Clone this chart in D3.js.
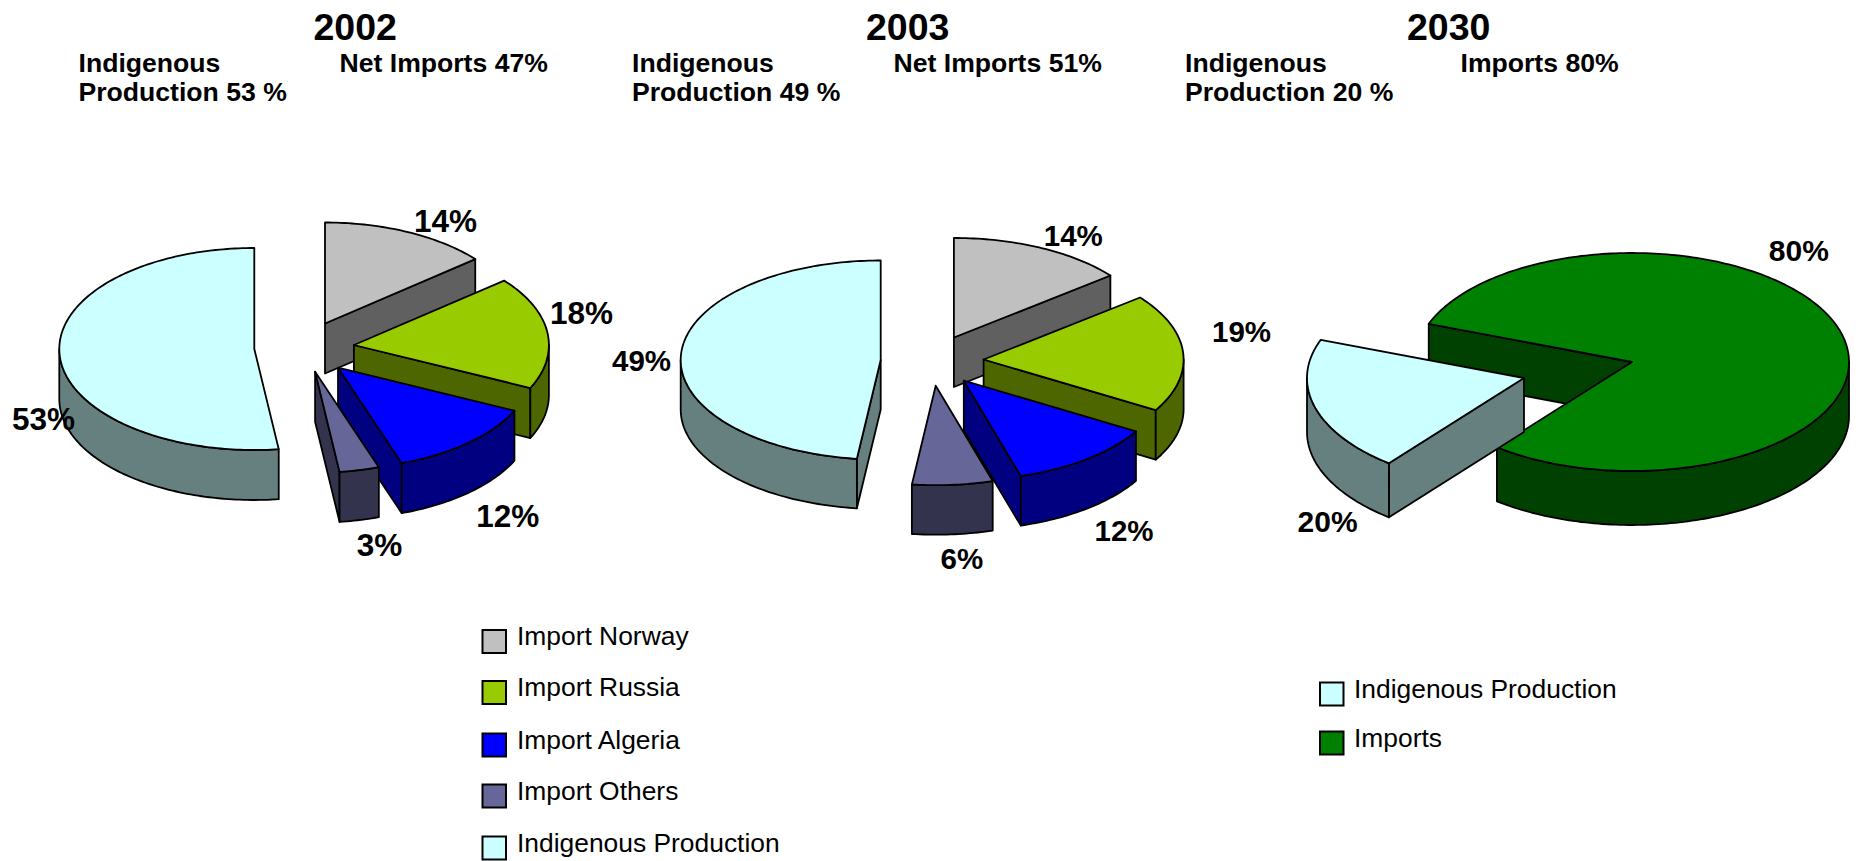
<!DOCTYPE html>
<html>
<head>
<meta charset="utf-8">
<script src="https://cdn.jsdelivr.net/npm/d3@7"></script>
<style>
  body { margin: 0; background: #fff; }
  svg { display: block; }
  text { font-family: "Liberation Sans", Arial, sans-serif; fill: #000; }
</style>
</head>
<body>
<script>
// Slice sizes (the printed labels are rounded differently)
const names2003 = ['Import Norway', 'Import Russia', 'Import Algeria', 'Import Others', 'Indigenous Production'];
const shares2002 = [14, 18, 12.7, 3.3, 52];
const shares2003 = [14.3, 19.2, 11.9, 6.5, 48.1];
const names2030 = ['Indigenous Production', 'Imports'];
const shares2030 = [20, 80];
const labels2002 = ['14%', '18%', '12%', '3%', '53%'];
const labels2003 = ['14%', '19%', '12%', '6%', '49%'];
const labels2030 = ['20%', '80%'];

const colours = {
  'Import Norway': ['#C0C0C0', '#606060'],
  'Import Russia': ['#99CC00', '#4D6600'],
  'Import Algeria': ['#0000FF', '#000080'],
  'Import Others': ['#666699', '#33334D'],
  'Indigenous Production': ['#CCFFFF', '#668080'],
  'Imports': ['#008000', '#004000']
};

const width = 1864;
const height = 861;

// Layout of each pie: centre, radii, depth, how far each slice is pulled out
const pies = [
  {
    title: '2002', titleX: 313.5, names: names2003, shares: shares2002, labels: labels2002,
    cx: 320, cy: 350, rx: 195, ry: 101, depth: 50, start: 0, labelSize: 31.5,
    pull: [[5, -26.5], [33.9, -5], [18, 17.7], [-4.9, 21.7], [-65.7, -1]],
    labelAt: [[414, 232], [550, 324], [476.3, 527], [356.8, 556], [12, 430]],
    head: [['Indigenous', 78.5, 71.7], ['Production 53 %', 78.5, 100.7], ['Net Imports 47%', 339.5, 71.7]]
  },
  {
    title: '2003', titleX: 866, names: names2003, shares: shares2003, labels: labels2003,
    cx: 940, cy: 360, rx: 200, ry: 99.5, depth: 49.5, start: 0, labelSize: 29.5,
    pull: [[13.9, -22.5], [43.6, -0.5], [23.8, 20.7], [-4.3, 25.7], [-59.3, 0]],
    labelAt: [[1043.8, 245.7], [1212, 342], [1094.5, 540.7], [940.5, 569], [612, 371]],
    head: [['Indigenous', 632, 71.7], ['Production 49 %', 632, 100.7], ['Net Imports 51%', 893.5, 71.7]]
  },
  {
    title: '2030', titleX: 1407, names: names2030, shares: shares2030, labels: labels2030,
    cx: 1632, cy: 362, rx: 217, ry: 109, depth: 54, start: 218.5, labelSize: 30,
    pull: [[-108, 16], [0, 0]],
    labelAt: [[1297.6, 531.7], [1768.8, 261]],
    head: [['Indigenous', 1185, 71.7], ['Production 20 %', 1185, 100.7], ['Imports 80%', 1460.5, 71.7]]
  }
];

const legends = [
  { names: names2003, x: 482.5, tops: [630, 681, 733.5, 784.5, 836.5], textX: 517 },
  { names: names2030, x: 1320, tops: [682.5, 731.5], textX: 1354 }
];

const svg = d3.select('body').append('svg')
  .attr('width', width)
  .attr('height', height);

const outline = d3.line();
const tau = 2 * Math.PI;

function drawPie(p) {
  const g = svg.append('g').attr('transform', `translate(${p.cx},${p.cy})`);

  const xScale = d3.scaleLinear().domain([-1, 1]).range([-p.rx, p.rx]);
  const yScale = d3.scaleLinear().domain([-1, 1]).range([-p.ry, p.ry]);
  const rimPoint = (a, dy) => [xScale(Math.sin(a)), yScale(-Math.cos(a)) + dy];

  const startAngle = p.start * Math.PI / 180;
  const arcs = d3.pie().sort(null).startAngle(startAngle).endAngle(startAngle + tau)(p.shares);

  const slices = arcs.map((a, i) => ({
    a0: a.startAngle, a1: a.endAngle, name: p.names[i], pull: p.pull[i]
  }));

  // back slices first
  slices.sort((s, t) => s.pull[1] - t.pull[1]);

  const sweep = (a0, a1, dy) => {
    const n = Math.max(2, Math.ceil((a1 - a0) / 0.02));
    return d3.range(n + 1).map(k => rimPoint(a0 + (a1 - a0) * k / n, dy));
  };

  slices.forEach(s => {
    const sg = g.append('g').attr('transform', `translate(${s.pull[0]},${s.pull[1]})`);
    const [top, side] = colours[s.name];
    const face = (pts, fill) => sg.append('path')
      .attr('d', outline(pts) + 'Z')
      .attr('fill', fill)
      .attr('stroke', '#000')
      .attr('stroke-width', 1.8)
      .attr('stroke-linejoin', 'round');

    // flat cut faces, only the ones turned to the viewer
    const wall = a => face([[0, 0], rimPoint(a, 0), rimPoint(a, p.depth), [0, p.depth]], side);
    if (Math.sin(s.a0) < -1e-6) wall(s.a0);
    if (Math.sin(s.a1) > 1e-6) wall(s.a1);

    // curved rim, visible between 3 and 9 o'clock
    [0, 1].forEach(turn => {
      const lo = Math.max(s.a0, Math.PI / 2 + turn * tau);
      const hi = Math.min(s.a1, 3 * Math.PI / 2 + turn * tau);
      if (hi > lo) {
        face(sweep(lo, hi, 0).concat(sweep(lo, hi, p.depth).reverse()), side);
      }
    });

    face([[0, 0]].concat(sweep(s.a0, s.a1, 0)), top);
  });

  // percentage labels
  svg.append('g').selectAll('text')
    .data(p.labels)
    .enter()
    .append('text')
    .attr('x', (d, i) => p.labelAt[i][0])
    .attr('y', (d, i) => p.labelAt[i][1])
    .attr('font-size', p.labelSize)
    .attr('font-weight', 'bold')
    .text(d => d);

  // heading
  svg.append('text')
    .attr('x', p.titleX)
    .attr('y', 40)
    .attr('font-size', 37.5)
    .attr('font-weight', 'bold')
    .text(p.title);

  svg.append('g').selectAll('text')
    .data(p.head)
    .enter()
    .append('text')
    .attr('x', d => d[1])
    .attr('y', d => d[2])
    .attr('font-size', 26.6)
    .attr('font-weight', 'bold')
    .text(d => d[0]);
}

pies.forEach(drawPie);

// Legends
legends.forEach(l => {
  const row = svg.append('g').selectAll('g')
    .data(l.names)
    .enter()
    .append('g')
    .attr('transform', (d, i) => `translate(0,${l.tops[i]})`);

  row.append('rect')
    .attr('x', l.x)
    .attr('width', 23.5)
    .attr('height', 23)
    .attr('fill', d => colours[d][0])
    .attr('stroke', '#000')
    .attr('stroke-width', 2);

  row.append('text')
    .attr('x', l.textX)
    .attr('y', 15)
    .attr('font-size', 26.4)
    .text(d => d);
});
</script>
</body>
</html>
